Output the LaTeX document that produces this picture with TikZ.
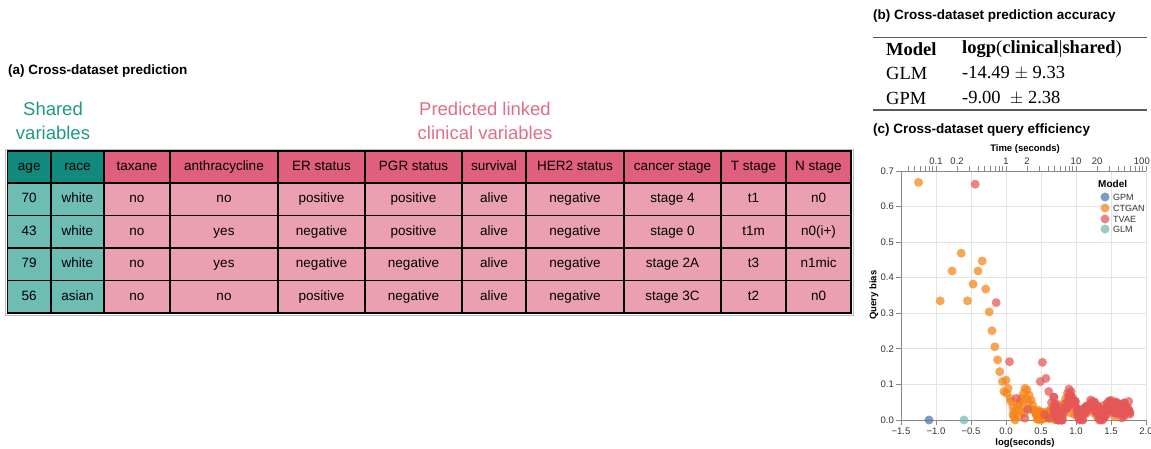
\documentclass[tikz,border=0pt]{standalone}
\usepackage{fontspec}
\setmainfont{Liberation Sans}
\newfontfamily\tabserif{Liberation Serif}
\definecolor{tealhead}{HTML}{12897D}
\definecolor{tealbody}{HTML}{6DBDB3}
\definecolor{pinkhead}{HTML}{DF5F7D}
\definecolor{pinkbody}{HTML}{EBA0B1}
\definecolor{tealtext}{HTML}{1F9985}
\definecolor{pinktext}{HTML}{E06E88}
\definecolor{cgpm}{HTML}{4C78A8}
\definecolor{cctgan}{HTML}{F58518}
\definecolor{ctvae}{HTML}{E45756}
\definecolor{cglm}{HTML}{72B7B2}
\definecolor{gridc}{HTML}{E4E4E4}
\definecolor{axisc}{HTML}{888888}
\tikzset{
  cellbox/.style={draw=black, line width=1.6pt, inner sep=0pt, text height=9.8pt, text depth=2.8pt, font=\fontsize{13.5}{16}\selectfont},
  paneltitle/.style={anchor=west, inner sep=0pt, font=\bfseries\fontsize{13.5}{16}\selectfont},
  bigtitle/.style={align=center, inner sep=0pt, font=\fontsize{18.5}{24}\selectfont},
  sertext/.style={anchor=west, inner sep=0pt, font=\tabserif\fontsize{18.5}{22}\selectfont},
  gridl/.style={draw=gridc, line width=0.8pt},
  axisl/.style={draw=axisc, line width=1pt},
  ticklab/.style={inner sep=0pt, font=\fontsize{9.5}{11}\selectfont, text=black!80},
  axtitle/.style={inner sep=0pt, font=\bfseries\fontsize{9.5}{11}\selectfont},
  dot/.style={fill opacity=0.72},
}
\begin{document}
\begin{tikzpicture}[x=1pt, y=-1pt]
\useasboundingbox[fill=white] (0,0) rectangle (1151,448);

% ---------- panel (a) ----------
\node[paneltitle] (ta) at (8,71) {(a) Cross-dataset prediction};
\node[bigtitle, text=tealtext] (shared) at (53,121) {Shared\\variables};
\node[bigtitle, text=pinktext] (pred) at (485,121) {Predicted linked\\clinical variables};

\draw[black!25, line width=1pt] (5.5,149) rectangle (853,315);

\def\colx{{7.5,51,104,170,278,365,462,526,624,721,786,851}}
\def\rowy{{151,183,215.5,248,280.5,313}}

\foreach [count=\c from 0] \t in {age,race,taxane,anthracycline,ER status,PGR status,survival,HER2 status,cancer stage,T stage,N stage} {
  \pgfmathsetmacro\xl{\colx[\c]}
  \pgfmathsetmacro\xr{\colx[\c+1]}
  \pgfmathsetmacro\w{\xr-\xl}
  \pgfmathsetmacro\xm{(\xl+\xr)/2}
  \ifnum\c<2 \def\fc{tealhead}\else\def\fc{pinkhead}\fi
  \node[cellbox, fill=\fc, minimum width=\w pt, minimum height=32pt] (h-\c) at (\xm,167) {\t};
}
\foreach [count=\r] \row in {{70,white,no,no,positive,positive,alive,negative,stage 4,t1,n0},{43,white,no,yes,negative,positive,alive,negative,stage 0,t1m,n0(i+)},{79,white,no,yes,negative,negative,alive,negative,stage 2A,t3,n1mic},{56,asian,no,no,positive,negative,alive,negative,stage 3C,t2,n0}} {
  \pgfmathsetmacro\yt{\rowy[\r]}
  \pgfmathsetmacro\yb{\rowy[\r+1]}
  \pgfmathsetmacro\hh{\yb-\yt}
  \pgfmathsetmacro\ym{(\yt+\yb)/2}
  \foreach [count=\c from 0] \t in \row {
    \pgfmathsetmacro\xl{\colx[\c]}
    \pgfmathsetmacro\xr{\colx[\c+1]}
    \pgfmathsetmacro\w{\xr-\xl}
    \pgfmathsetmacro\xm{(\xl+\xr)/2}
    \ifnum\c<2 \def\fc{tealbody}\else\def\fc{pinkbody}\fi
    \node[cellbox, fill=\fc, minimum width=\w pt, minimum height=\hh pt] (r\r-\c) at (\xm,\ym) {\t};
  }
}

% ---------- panel (b) ----------
\node[paneltitle] (tb) at (873,16) {(b) Cross-dataset prediction accuracy};
\coordinate (rl1) at (873,37.5);
\coordinate (rr1) at (1147,37.5);
\coordinate (rl2) at (873,110);
\coordinate (rr2) at (1147,110);
\draw[black!65, line width=1.1pt] (rl1) -- (rr1);
\draw[black!65, line width=1.1pt] (rl2) -- (rr2);
\node[sertext] (bm) at (886,49) {\bfseries Model};
\node[sertext] (bl) at (962,49) {\textbf{logp}(\textbf{clinical}|\textbf{shared})};
\node[sertext] (glm) at (886,73) {GLM};
\node[sertext] (glmv) at (962,73) {-14.49 $\pm$ 9.33};
\node[sertext] (gpm) at (886,98) {GPM};
\node[sertext] (gpmv) at (962,98) {-9.00\ \ $\pm$ 2.38};

% ---------- panel (c) ----------
\node[paneltitle] (tc) at (873,130) {(c) Cross-dataset query efficiency};
\node[axtitle] (ttime) at (1025,149) {Time (seconds)};
\node[axtitle] (tlog) at (1025,443) {log(seconds)};
\node[axtitle, rotate=90] (tqb) at (874,295) {Query bias};

\begin{scope}[shift={(1006,420)}, x=70pt, y=355.7pt]
  \foreach \k in {0,...,7} {
    \draw[gridl] ({-1.5+\k/2},0) -- ({-1.5+\k/2},0.7);
    \draw[gridl] (-1.5,{\k/10}) -- (2,{\k/10});
  }
  % axes
  \draw[axisl] (-1.5,0) -- (2,0);
  \draw[axisl] (-1.5,0) -- (-1.5,0.7);
  \draw[axisl] (-1.5,0.7) -- (2,0.7);
  \foreach \k in {0,...,7} {
    \draw[axisl] (-1.5,{\k/10}) -- ++(-5pt,0);
    \node[ticklab, anchor=east] (yl\k) at ([xshift=-7pt]-1.5,{\k/10}) {0.\k};
  }
  \foreach \pv/\lab [count=\i] in {-1.5/{\textminus1.5},-1/{\textminus1.0},-0.5/{\textminus0.5},0/0.0,0.5/0.5,1/1.0,1.5/1.5,2/2.0} {
    \draw[axisl] (\pv,0) -- ++(0,-5pt);
    \node[ticklab] (xl\i) at ([yshift=-11pt]\pv,0) {\lab};
  }
  % top log axis
  \foreach \d in {-2,-1,0,1} {
    \foreach \m in {1,...,9} {
      \pgfmathsetmacro\lv{log10(\m)+\d}
      \pgfmathtruncatemacro\ok{\lv>=-1.45}
      \ifnum\ok=1 \draw[axisl] (\lv,0.7) -- ++(0,5pt);\fi
    }
  }
  \draw[axisl] (2,0.7) -- ++(0,5pt);
  \foreach \pv/\lab [count=\i] in {-1/0.1,-0.69897/0.2,0/1,0.30103/2,1/10,1.30103/20} {
    \node[ticklab] (tl\i) at ([yshift=10pt]\pv,0.7) {\lab};
  }
  \node[ticklab, anchor=east] (tl7) at ([yshift=10pt,xshift=4pt]2,0.7) {100};

  % data: CTGAN
  \foreach \pv/\pb in {-1.25/0.668,-0.64/0.469,-0.34/0.447,-0.77/0.419,-0.40/0.419,-0.94/0.335,-0.55/0.335,-0.47/0.382,-0.29/0.368,-0.24/0.304,-0.20/0.251,-0.16/0.206,-0.12/0.169,-0.09/0.136,-0.05/0.108,0.0/0.112,-0.03/0.08,0.03/0.089,0.01/0.075,0.07/0.052,0.10/0.037,0.11/0.023,0.13/0.0,0.10/0.014,0.15/0.033,0.18/0.042,0.20/0.052,0.22/0.061,0.25/0.075,0.27/0.089,0.30/0.085,0.33/0.070,0.36/0.056,0.38/0.042,0.40/0.028,0.43/0.019,0.22/0.023,0.19/0.01,0.24/0.04,0.28/0.06,0.32/0.05,0.26/0.02,0.35/0.03,0.12/0.008,0.06/0.06,0.78/0.035,0.82/0.045,0.85/0.06,0.88/0.055,0.90/0.04,0.80/0.02,0.75/0.02,0.86/0.03,0.92/0.02,0.98/0.015,1.05/0.03,1.1/0.02,1.15/0.04,1.2/0.035,1.25/0.02,1.3/0.01,1.38/0.02,1.45/0.035,1.5/0.025,1.55/0.01} {
    \fill[cctgan, dot] (\pv,\pb) circle[radius=4.5pt];
  }
  \pgfmathsetseed{11}
  \foreach \i in {1,...,50} {
    \pgfmathsetmacro\pv{0.42+0.32*rnd}
    \pgfmathsetmacro\pb{0.03*rnd}
    \fill[cctgan, dot] (\pv,\pb) circle[radius=4.5pt];
  }
  % data: TVAE
  \foreach \pv/\pb in {-0.44/0.663,-0.14/0.33,0.05/0.164,0.52/0.162,0.49/0.108,0.57/0.117,0.61/0.08,0.65/0.049,0.15/0.061,0.27/0.005,0.31/0.03,0.55/0.015,0.62/0.005,0.70/0.02,0.72/0.045,0.88/0.075,0.9/0.087,0.93/0.08} {
    \fill[ctvae, dot] (\pv,\pb) circle[radius=4.5pt];
  }
  \foreach \i in {1,...,150} {
    \pgfmathsetmacro\pv{0.68+1.1*rnd}
    \pgfmathsetmacro\pb{max(0,0.032+0.03*cos(360*(\pv-0.92)/0.29)*(1.85-\pv)/0.93+0.04*(rnd-0.5))}
    \fill[ctvae, dot] (\pv,\pb) circle[radius=4.5pt];
  }
  % GPM and GLM
  \fill[cgpm, dot] (-1.1,0) circle[radius=4.5pt];
  \fill[cglm, dot] (-0.6,0) circle[radius=4.5pt];
\end{scope}

% legend
\node[axtitle, anchor=west, font=\bfseries\fontsize{10}{12}\selectfont] (lgt) at (1098,184) {Model};
\foreach \nm/\col/\yy in {GPM/cgpm/197,CTGAN/cctgan/208,TVAE/ctvae/219,GLM/cglm/229} {
  \fill[\col, dot] (1105,\yy) circle[radius=4.5pt];
  \node[ticklab, anchor=west, font=\fontsize{9}{11}\selectfont] (lg-\nm) at (1113,\yy) {\nm};
}
\end{tikzpicture}
\end{document}
